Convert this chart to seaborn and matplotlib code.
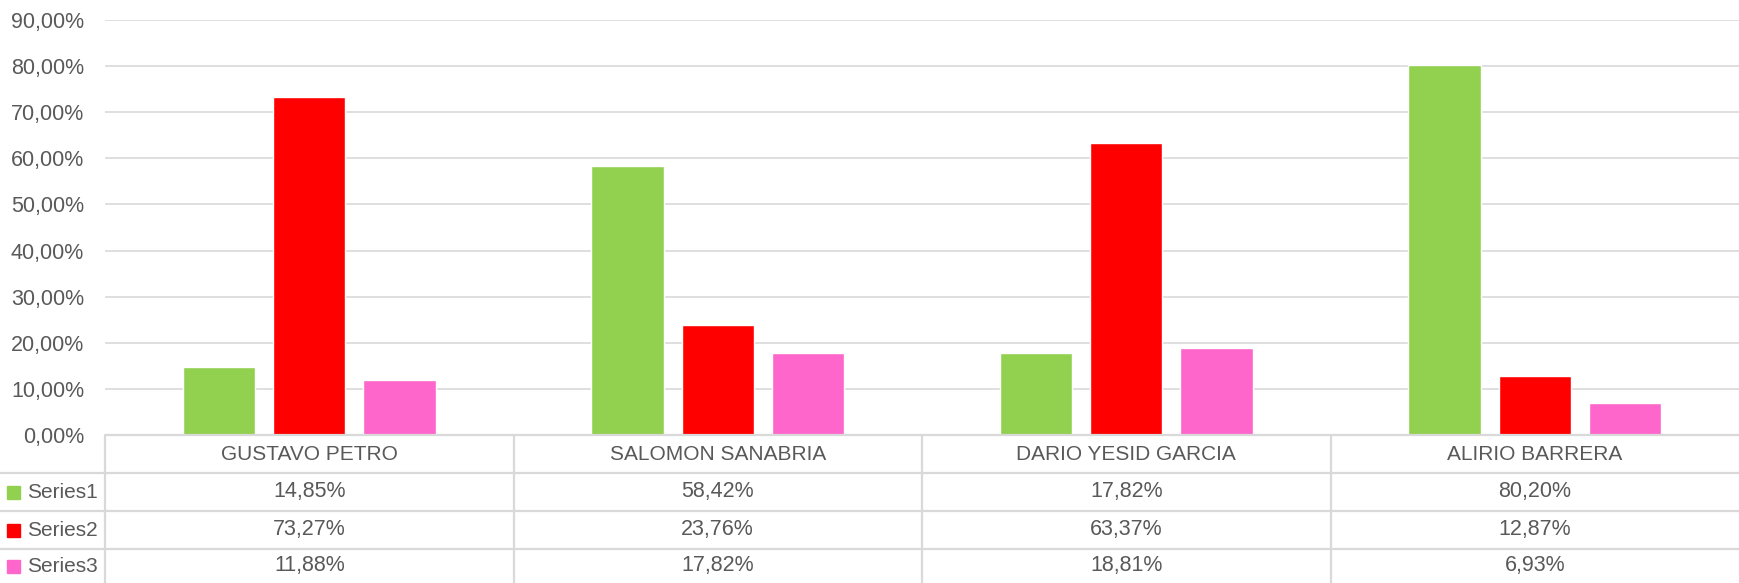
import numpy as np
import pandas as pd
import matplotlib
matplotlib.use("Agg")
import matplotlib.pyplot as plt
import seaborn as sns

# data
candidates = ["GUSTAVO PETRO", "SALOMON SANABRIA", "DARIO YESID GARCIA", "ALIRIO BARRERA"]
series_names = ["Series1", "Series2", "Series3"]
series1 = [14.85, 58.42, 17.82, 80.20]
series2 = [73.27, 23.76, 63.37, 12.87]
series3 = [11.88, 17.82, 18.81, 6.93]
colors = ["#92D050", "#FF0000", "#FF66CC"]

df = pd.DataFrame({
    "candidate": candidates * 3,
    "series": np.repeat(series_names, len(candidates)),
    "value": np.array(series1 + series2 + series3) / 100,
})

sns.set_style("white")
plt.rcParams["font.family"] = ["Liberation Sans", "DejaVu Sans"]
txt = "#595959"
grid = "#D9D9D9"

W, H = 1739, 583
fig = plt.figure(figsize=(W / 100, H / 100), dpi=100)
left_px, top_px, base_px = 105, 20, 435
ax = fig.add_axes([left_px / W, (H - base_px) / H, 1 - left_px / W, (base_px - top_px) / H])

sns.barplot(data=df, x="candidate", y="value", hue="series", order=candidates,
            hue_order=series_names, palette=colors, width=0.663, gap=0.2,
            saturation=1, ax=ax, legend=False)

ax.set_ylim(0, 0.9)
ax.set_xlim(-0.5, len(candidates) - 0.5)
ax.set_yticks(np.arange(0, 0.91, 0.1))
ax.set_yticklabels([f"{v*100:.2f}%".replace(".", ",") for v in np.arange(0, 0.91, 0.1)])
ax.tick_params(axis="y", length=0, pad=15, labelsize=15.5, labelcolor=txt)
ax.set_xticks([])
ax.set_xlabel("")
ax.set_ylabel("")
ax.yaxis.grid(True, color=grid, linewidth=1.2)
ax.set_axisbelow(True)
for s in ax.spines.values():
    s.set_visible(False)

# data table under the chart, drawn in pixel coordinates
tab = fig.add_axes([0, 0, 1, (H - base_px) / H])
tab.set_xlim(0, W)
tab.set_ylim(H, base_px)
tab.axis("off")
row_edges = [base_px, 473, 511, 549, H]
ncol = len(candidates)
col_w = (W - left_px) / ncol
col_edges = [left_px + i * col_w for i in range(ncol + 1)]

lw = 1.6
tab.plot([left_px, W], [base_px, base_px], color=grid, lw=lw, clip_on=False)
for y in row_edges[1:-1]:
    tab.plot([0, W], [y, y], color=grid, lw=lw)
for x in col_edges[:-1]:
    tab.plot([x, x], [base_px, H], color=grid, lw=lw)

hy = (row_edges[0] + row_edges[1]) / 2
for i, c in enumerate(candidates):
    cx = (col_edges[i] + col_edges[i + 1]) / 2
    tab.text(cx, hy, c, ha="center", va="center", fontsize=15, color=txt)

for r, (name, vals, col) in enumerate(zip(series_names, [series1, series2, series3], colors)):
    cy = (row_edges[r + 1] + row_edges[r + 2]) / 2
    tab.add_patch(plt.Rectangle((7, cy - 6.5), 13, 13, color=col))
    tab.text(27, cy, name, ha="left", va="center", fontsize=15, color=txt)
    for i, v in enumerate(vals):
        cx = (col_edges[i] + col_edges[i + 1]) / 2
        tab.text(cx, cy, f"{v:.2f}%".replace(".", ","), ha="center", va="center",
                 fontsize=15.5, color=txt)

fig.savefig("out.png", dpi=100)
